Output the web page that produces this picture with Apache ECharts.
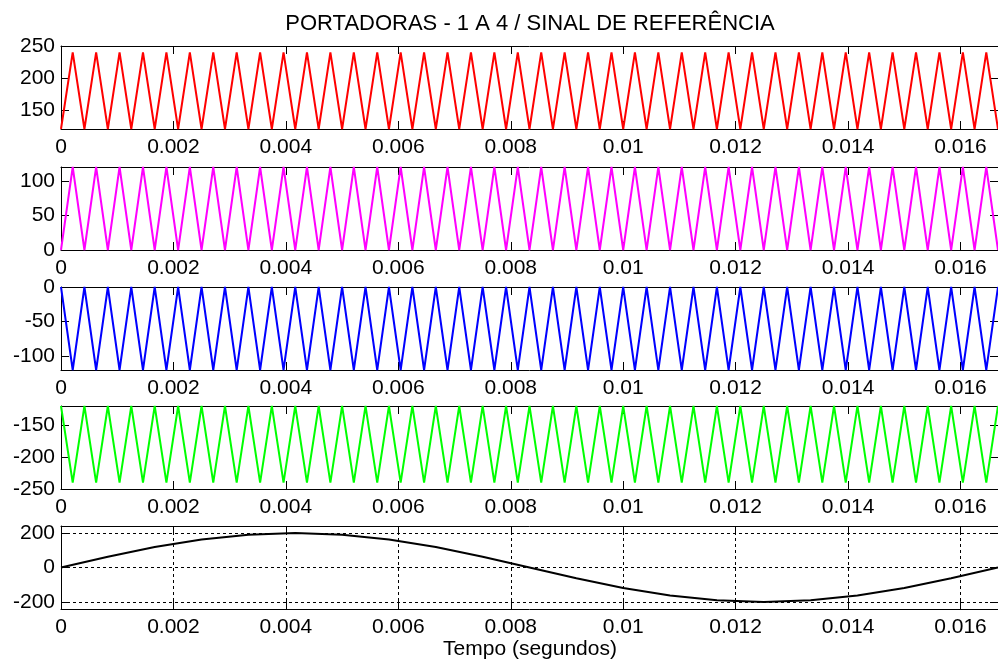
<!DOCTYPE html>
<html>
<head>
<meta charset="utf-8">
<script src="https://cdn.jsdelivr.net/npm/echarts@6/dist/echarts.min.js"></script>
<style>
  html, body { margin: 0; padding: 0; background: #fff; }
  #chart { width: 998px; height: 664px; }
</style>
</head>
<body>
<div id="chart"></div>
<script>
// Triangular carriers (2400 Hz): vertex values, one every half period.
const carrierHalfPeriod = 1 / 4800;
const carrier1 = [
  120,240,120,240,120,240,120,240,120,240,120,240,120,240,120,240,120,240,120,240,
  120,240,120,240,120,240,120,240,120,240,120,240,120,240,120,240,120,240,120,240,
  120,240,120,240,120,240,120,240,120,240,120,240,120,240,120,240,120,240,120,240,
  120,240,120,240,120,240,120,240,120,240,120,240,120,240,120,240,120,240,120,240,
  120
];
const carrier2 = [
  0,120,0,120,0,120,0,120,0,120,0,120,0,120,0,120,0,120,0,120,
  0,120,0,120,0,120,0,120,0,120,0,120,0,120,0,120,0,120,0,120,
  0,120,0,120,0,120,0,120,0,120,0,120,0,120,0,120,0,120,0,120,
  0,120,0,120,0,120,0,120,0,120,0,120,0,120,0,120,0,120,0,120,
  0
];
const carrier3 = [
  0,-120,0,-120,0,-120,0,-120,0,-120,0,-120,0,-120,0,-120,0,-120,0,-120,
  0,-120,0,-120,0,-120,0,-120,0,-120,0,-120,0,-120,0,-120,0,-120,0,-120,
  0,-120,0,-120,0,-120,0,-120,0,-120,0,-120,0,-120,0,-120,0,-120,0,-120,
  0,-120,0,-120,0,-120,0,-120,0,-120,0,-120,0,-120,0,-120,0,-120,0,-120,
  0
];
const carrier4 = [
  -120,-240,-120,-240,-120,-240,-120,-240,-120,-240,-120,-240,-120,-240,-120,-240,-120,-240,-120,-240,
  -120,-240,-120,-240,-120,-240,-120,-240,-120,-240,-120,-240,-120,-240,-120,-240,-120,-240,-120,-240,
  -120,-240,-120,-240,-120,-240,-120,-240,-120,-240,-120,-240,-120,-240,-120,-240,-120,-240,-120,-240,
  -120,-240,-120,-240,-120,-240,-120,-240,-120,-240,-120,-240,-120,-240,-120,-240,-120,-240,-120,-240,
  -120
];

// Reference signal (60 Hz), sampled every 1/1200 s.
const referenceStep = 1 / 1200;
const referenceSignal = [
  0, 62, 118, 162, 190, 200, 190, 162, 118, 62,
  0, -62, -118, -162, -190, -200, -190, -162, -118, -62,
  0
];

// Axis ranges and tick labels of each panel.
const timeMax = 1 / 60;
const timeTicks = [0, 0.002, 0.004, 0.006, 0.008, 0.01, 0.012, 0.014, 0.016];
const panelRanges = [[120, 250], [0, 120], [-120, 0], [-250, -120], [-240, 240]];
const panelTicks = [
  [150, 200, 250],
  [0, 50, 100],
  [-100, -50, 0],
  [-250, -200, -150],
  [-200, 0, 200]
];
const panelColors = ['#ff0000', '#ff00ff', '#0000ff', '#00ff00', '#000000'];

const titleText = 'PORTADORAS - 1 A 4 / SINAL DE REFERÊNCIA';
const xLabelText = 'Tempo (segundos)';

const FONT = 'Liberation Sans, Arial, Helvetica, sans-serif';
const FS = 21;

function toPoints(values, step) {
  return values.map((v, i) => [i * step, v]);
}
const panelData = [
  toPoints(carrier1, carrierHalfPeriod),
  toPoints(carrier2, carrierHalfPeriod),
  toPoints(carrier3, carrierHalfPeriod),
  toPoints(carrier4, carrierHalfPeriod),
  toPoints(referenceSignal, referenceStep)
];

const gridTops = [46, 167, 287, 406, 526];
const gridHeight = 83;

const grids = [], xAxes = [], yAxes = [], series = [];
gridTops.forEach((top, i) => {
  const withGrid = i === 4;
  grids.push({ left: 61, top: top, width: 939, height: gridHeight, show: false });
  const tickStyle = { show: true, inside: true, length: 8, lineStyle: { color: '#000', width: 1 } };
  const splitStyle = { show: withGrid, lineStyle: { color: '#000', width: 1, type: [3, 3] } };
  // bottom and top time axes
  xAxes.push({
    gridIndex: i, type: 'value', position: 'bottom', min: 0, max: timeMax,
    axisLine: { show: true, onZero: false, lineStyle: { color: '#000', width: 1 } },
    axisTick: Object.assign({ customValues: timeTicks }, tickStyle),
    axisLabel: { customValues: timeTicks, color: '#000', fontSize: FS, fontFamily: FONT, margin: 8,
      formatter: v => String(v) },
    splitLine: splitStyle
  });
  xAxes.push({
    gridIndex: i, type: 'value', position: 'top', min: 0, max: timeMax,
    axisLine: { show: true, onZero: false, lineStyle: { color: '#000', width: 1 } },
    axisTick: Object.assign({ customValues: timeTicks }, tickStyle),
    axisLabel: { show: false }, splitLine: { show: false }
  });
  // left and right value axes
  yAxes.push({
    gridIndex: i, type: 'value', position: 'left',
    min: panelRanges[i][0], max: panelRanges[i][1],
    axisLine: { show: true, onZero: false, lineStyle: { color: '#000', width: 1 } },
    axisTick: Object.assign({ customValues: panelTicks[i] }, tickStyle),
    axisLabel: { customValues: panelTicks[i], color: '#000', fontSize: FS, fontFamily: FONT, margin: 6 },
    splitLine: splitStyle
  });
  yAxes.push({
    gridIndex: i, type: 'value', position: 'right',
    min: panelRanges[i][0], max: panelRanges[i][1],
    axisLine: { show: true, onZero: false, lineStyle: { color: '#000', width: 1 } },
    axisTick: Object.assign({ customValues: panelTicks[i] }, tickStyle),
    axisLabel: { show: false }, splitLine: { show: false }
  });
  series.push({
    type: 'line', xAxisIndex: 2 * i, yAxisIndex: 2 * i,
    data: panelData[i], showSymbol: false, symbol: 'none', clip: true,
    lineStyle: { color: panelColors[i], width: 2 }, z: 3
  });
});

const chart = echarts.init(document.getElementById('chart'), null, { renderer: 'canvas' });
chart.setOption({
  animation: false,
  backgroundColor: '#ffffff',
  grid: grids,
  xAxis: xAxes,
  yAxis: yAxes,
  series: series,
  graphic: [
    { type: 'text', x: 530, y: 13,
      style: { text: titleText, fill: '#000', fontSize: 22, fontFamily: FONT, textAlign: 'center', textVerticalAlign: 'top' } },
    { type: 'text', x: 530, y: 639,
      style: { text: xLabelText, fill: '#000', fontSize: FS, fontFamily: FONT, textAlign: 'center', textVerticalAlign: 'top' } }
  ]
});
</script>
</body>
</html>
